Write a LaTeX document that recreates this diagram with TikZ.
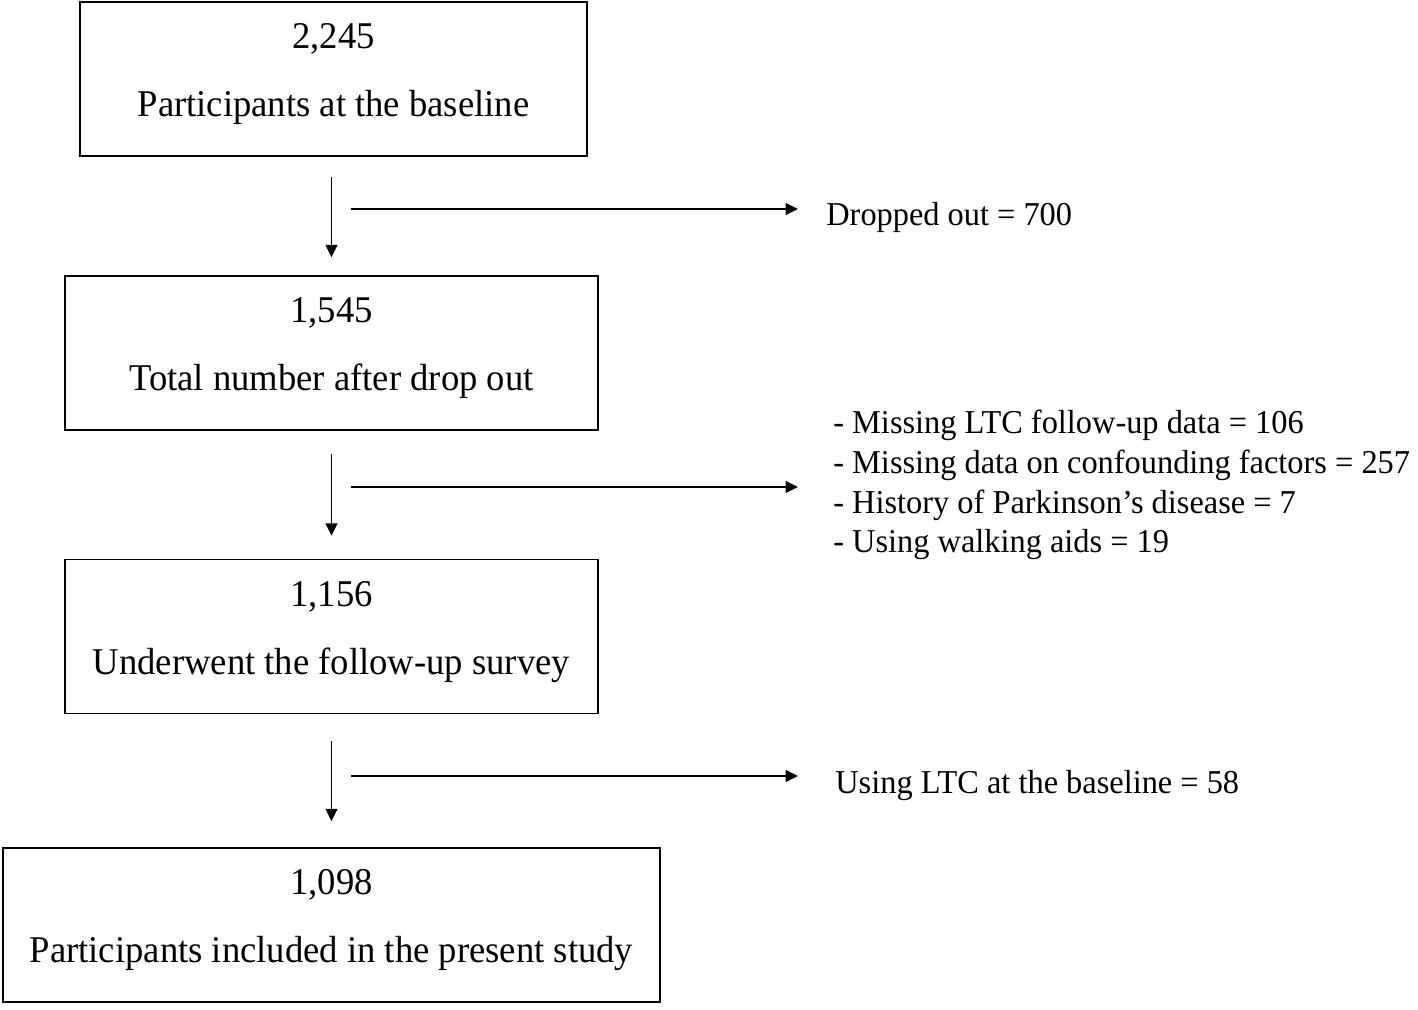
\documentclass[tikz,border=0pt]{standalone}
\usepackage{fontspec}
\setmainfont[FakeStretch=0.97]{Liberation Serif}
\usetikzlibrary{arrows.meta}
\begin{document}
\begin{tikzpicture}[x=0.02cm,y=-0.02cm,
  stagebox/.style={draw, line width=0.85pt, inner sep=0pt, minimum height=3.08cm},
  bigtxt/.style={inner sep=0pt, anchor=base, font=\fontsize{21.5}{25}\selectfont},
  sidetxt/.style={inner sep=0pt, anchor=base west, font=\fontsize{19}{22}\selectfont},
  arr/.style={line width=0.85pt, -{Triangle[length=0.25cm, width=0.24cm]}}]
\useasboundingbox (0,0) rectangle (1418,1009);
% boxes
\node[stagebox, minimum width=10.14cm] (b1) at (333.5,79) {};
\node[stagebox, minimum width=10.66cm] (b2) at (331.5,353) {};
\node[stagebox, minimum width=10.66cm] (b3) at (331.5,636.5) {};
\node[stagebox, minimum width=13.14cm] (b4) at (331.5,925) {};
% box texts
\node[bigtxt] (n1) at (333.5,48.5) {2,245};
\node[bigtxt] (t1) at (333.5,116) {Participants at the baseline};
\node[bigtxt] (n2) at (331.5,322.5) {1,545};
\node[bigtxt] (t2) at (331.5,390) {Total number after drop out};
\node[bigtxt] (n3) at (331.5,606.5) {1,156};
\node[bigtxt] (t3) at (331.5,674) {Underwent the follow-up survey};
\node[bigtxt] (n4) at (331.5,894.5) {1,098};
\node[bigtxt] (t4) at (331.5,962) {Participants included in the present study};
% vertical arrows
\draw[arr, shorten <=0.4cm, shorten >=0.36cm] (b1.south -| b2.north) -- (b2.north);
\draw[arr, shorten <=0.46cm, shorten >=0.46cm] (b2.south) -- (b3.north);
\draw[arr, shorten <=0.54cm, shorten >=0.52cm] (b3.south) -- (b4.north);
% side texts
\node[sidetxt] (d1) at (826,225) {Dropped out = 700};
\node[sidetxt] (l1) at (833,433) {- Missing LTC follow-up data = 106};
\node[sidetxt] (l2) at (833,473) {- Missing data on confounding factors = 257};
\node[sidetxt] (l3) at (833,513) {- History of Parkinson’s disease = 7};
\node[sidetxt] (l4) at (833,552) {- Using walking aids = 19};
\node[sidetxt] (d3) at (835,793) {Using LTC at the baseline = 58};
% horizontal arrows
\coordinate (h1a) at (351,209); \coordinate (h1b) at (798,209);
\coordinate (h2a) at (351,487); \coordinate (h2b) at (798,487);
\coordinate (h3a) at (351,776); \coordinate (h3b) at (798,776);
\draw[arr] (h1a) -- (h1b);
\draw[arr] (h2a) -- (h2b);
\draw[arr] (h3a) -- (h3b);
\end{tikzpicture}
\end{document}
